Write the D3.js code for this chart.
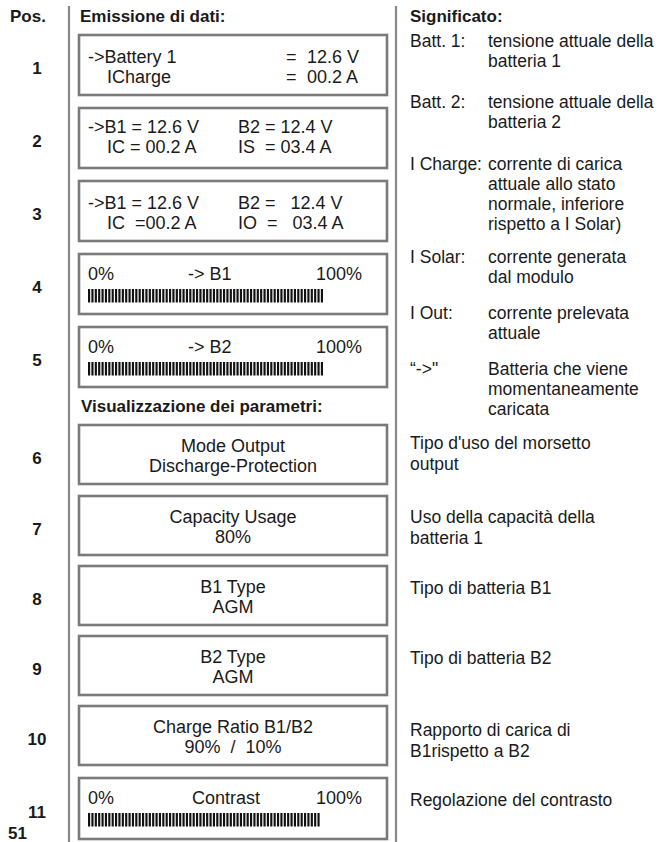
<!DOCTYPE html>
<html><head><meta charset="utf-8">
<script src="https://cdn.jsdelivr.net/npm/d3@7"></script>
<style>
html,body{margin:0;padding:0;background:#fff;}
svg{display:block;font-family:"Liberation Sans",Arial,Helvetica,sans-serif;}
text{white-space:pre;fill:#1a1a1a;}
</style>
</head><body>
<svg id="c" width="664" height="842"></svg>
<script>
// ---------------- data ----------------
const positions = ["1","2","3","4","5","6","7","8","9","10","11"];
const headerPos = "Pos.";
const headerData = "Emissione di dati:";
const headerMeaning = "Significato:";
const headerParams = "Visualizzazione dei parametri:";
const pageNumber = "51";

const batteryVoltages = [12.6, 12.4];      // B1, B2 (V)
const chargeCurrent = 0.2;                 // IC (A)
const solarCurrent = 3.4;                  // IS (A)
const outCurrent = 3.4;                    // IO (A)

const barLabels = ["-> B1", "-> B2", "Contrast"];
const barLevels = [70, 70, 69];            // lit segments
const barSegments = 82;                    // segments at 100%
const barEnds = ["0%", "100%"];

const paramTitles = ["Mode Output", "Capacity Usage", "B1 Type", "B2 Type", "Charge Ratio B1/B2"];
const paramValues = ["Discharge-Protection", "80%", "AGM", "AGM", "90%  /  10%"];

const meaningLabels = ["Batt. 1:", "Batt. 2:", "I Charge:", "I Solar:", "I Out:", "\u201C->\""];
const meaningTexts = [
  ["tensione attuale della", "batteria 1"],
  ["tensione attuale della", "batteria 2"],
  ["corrente di carica", "attuale allo stato", "normale, inferiore", "rispetto a I Solar)"],
  ["corrente generata", "dal modulo"],
  ["corrente prelevata", "attuale"],
  ["Batteria che viene", "momentaneamente", "caricata"]
];
const paramMeanings = [
  ["Tipo d'uso del morsetto", "output"],
  ["Uso della capacità della", "batteria 1"],
  ["Tipo di batteria B1"],
  ["Tipo di batteria B2"],
  ["Rapporto di carica di", "B1rispetto a B2"],
  ["Regolazione del contrasto"]
];

// ---------------- layout ----------------
const svg = d3.select("#c");
const fmt = d3.format("04.1f");
const boxStroke = "#7a7a7a", ruleStroke = "#888888";
const boxX0 = 79, boxX1 = 387;
const topBoxY = [35, 108, 181, 254, 327], topBoxH = 60;
const paramBoxY = [425, 496, 566, 636, 706, 778], paramBoxH = 59;
const boxTops = topBoxY.concat(paramBoxY);
const boxHeights = boxTops.map((d, i) => i === 10 ? 61 : (i < 5 ? topBoxH : paramBoxH));

// vertical rules
svg.append("line").attr("x1", 69).attr("x2", 69).attr("y1", 6).attr("y2", 842)
  .attr("stroke", ruleStroke).attr("stroke-width", 2.2);
svg.append("line").attr("x1", 396).attr("x2", 396).attr("y1", 6).attr("y2", 842)
  .attr("stroke", ruleStroke).attr("stroke-width", 2.2);

// headers
const bold = (x, y, t, anchor) => svg.append("text").attr("x", x).attr("y", y)
  .attr("font-size", 17).attr("font-weight", "bold").attr("text-anchor", anchor || "start").text(t);
bold(10, 22, headerPos);
bold(80, 22, headerData);
bold(410, 22, headerMeaning);
bold(81, 412, headerParams);
bold(8, 839, pageNumber);

// position numbers
svg.selectAll("text.pos").data(positions).join("text").attr("class", "pos")
  .attr("x", 37).attr("text-anchor", "middle")
  .attr("y", (d, i) => boxTops[i] + boxHeights[i] / 2 + 9)
  .attr("font-size", 17).attr("font-weight", "bold").text(d => d);

// boxes
svg.selectAll("rect.box").data(boxTops).join("rect").attr("class", "box")
  .attr("x", boxX0).attr("y", d => d).attr("width", boxX1 - boxX0)
  .attr("height", (d, i) => boxHeights[i])
  .attr("fill", "#fff").attr("stroke", boxStroke).attr("stroke-width", 2.6);

const boxText = (x, y, t, anchor) => svg.append("text").attr("x", x).attr("y", y)
  .attr("font-size", 18).attr("text-anchor", anchor || "start").text(t);

// box 1
{
  const t = topBoxY[0];
  boxText(88, t + 28, "->Battery 1");
  boxText(286, t + 28, "=");
  boxText(307, t + 28, fmt(batteryVoltages[0]) + " V");
  boxText(107, t + 48, "ICharge");
  boxText(286, t + 48, "=");
  boxText(307, t + 48, fmt(chargeCurrent) + " A");
}
// box 2
{
  const t = topBoxY[1];
  boxText(88, t + 25, "->B1 = " + fmt(batteryVoltages[0]) + " V");
  boxText(238, t + 25, "B2 = " + fmt(batteryVoltages[1]) + " V");
  boxText(107, t + 45, "IC = " + fmt(chargeCurrent) + " A");
  boxText(238, t + 45, "IS  = " + fmt(solarCurrent) + " A");
}
// box 3
{
  const t = topBoxY[2];
  boxText(88, t + 28, "->B1 = " + fmt(batteryVoltages[0]) + " V");
  boxText(238, t + 28, "B2 =   " + fmt(batteryVoltages[1]) + " V");
  boxText(107, t + 48, "IC  =" + fmt(chargeCurrent) + " A");
  boxText(238, t + 48, "IO  =   " + fmt(outCurrent) + " A");
}

// bar boxes
const barBoxTops = [topBoxY[3], topBoxY[4], paramBoxY[5]];
const seg = d3.scaleBand().domain(d3.range(barSegments)).range([88, 363.5]).paddingInner(0.36).paddingOuter(0);
barLabels.forEach((lab, i) => {
  const t = barBoxTops[i];
  const labX = i === 2 ? 192 : 188;
  boxText(88, t + 26, barEnds[0]);
  boxText(labX, t + 26, lab);
  boxText(362, t + 26, barEnds[1], "end");
  svg.append("g").selectAll("rect").data(d3.range(barLevels[i])).join("rect")
    .attr("x", d => seg(d)).attr("width", seg.bandwidth())
    .attr("y", t + 35).attr("height", 13.5).attr("fill", "#111");
});

// parameter boxes
paramTitles.forEach((p, i) => {
  const t = paramBoxY[i];
  boxText(233, t + 27, p, "middle");
  boxText(233, t + 47, paramValues[i], "middle");
});

// meanings (right column)
const labX = 410, descX = 488, step = 20;
const meaningY = [41, 102, 164, 257, 313, 369];
meaningLabels.forEach((lab, i) => {
  const y0 = meaningY[i] + 6;
  svg.append("text").attr("x", labX).attr("y", y0).attr("font-size", 17.5).text(lab);
  meaningTexts[i].forEach((ln, j) => {
    svg.append("text").attr("x", descX).attr("y", y0 + j * step).attr("font-size", 17.5).text(ln);
  });
});
const paramMeaningY = [443, 517, 588, 658, 730, 800];
paramMeanings.forEach((lines, i) => {
  lines.forEach((ln, j) => {
    svg.append("text").attr("x", labX).attr("y", paramMeaningY[i] + 6 + j * 21)
      .attr("font-size", 17.5).text(ln);
  });
});
</script>
</body></html>
